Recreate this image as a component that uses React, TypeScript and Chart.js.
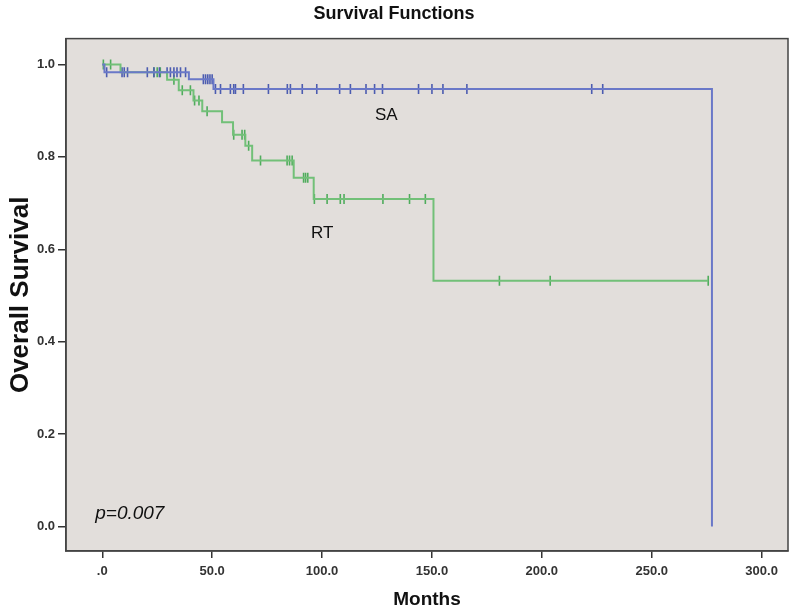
import React, { useEffect, useRef } from "react";
import { Chart, registerables } from "chart.js";

Chart.register(...registerables);

// SA group: Kaplan-Meier step times and survival after each step
const saStepTimes = [0, 1, 39.4, 50.6, 277.4];
const saStepValues = [1.0, 0.983, 0.968, 0.947, 0.0];
// SA censored observations (months)
const saCensored = [
  2, 9, 10, 11.5, 20.5, 23.5, 26, 29.5, 31, 32.6, 34, 35.6, 37.9,
  46, 47, 48, 49, 50,
  51.5, 53.8, 58.3, 59.8, 60.6, 64.2, 75.6, 84.2, 85.6, 91, 97.6, 108, 112.9,
  120, 123.9, 127.5, 143.9, 150, 155, 165.9, 222.7, 227.7,
];

// RT group
const rtStepTimes = [0, 8.3, 29.5, 34.8, 41.5, 45.5, 54.5, 59.5, 65.1, 68.2, 87.1, 96.2, 150.7, 275.7];
const rtStepValues = [1.0, 0.983, 0.967, 0.944, 0.922, 0.899, 0.875, 0.848, 0.824, 0.792, 0.755, 0.709, 0.532, 0.532];
const rtCensored = [
  0.5, 3.8, 23.5, 25, 26.4, 32.6, 36.4, 40.1, 42, 44, 47.7, 59.8, 63.6, 64.8, 66.6,
  72, 84.1, 85.2, 86.4, 91.6, 92.5, 93.5, 96.5, 102.3, 108.3, 110, 127.7, 139.8,
  147, 180.7, 203.8, 275.7,
];

const xTickValues = [0, 50, 100, 150, 200, 250, 300];
const yTickValues = [0, 0.2, 0.4, 0.6, 0.8, 1.0];

const groupLabels = ["SA", "RT"];
const pValueText = "p=0.007";

function levelAt(times: number[], values: number[], t: number): number {
  let v = values[0];
  for (let i = 0; i < times.length; i++) {
    if (times[i] <= t) v = values[i];
  }
  return v;
}

const SA_LINE = "#6a78c8";
const SA_TICK = "#4c5cb0";
const RT_LINE = "#72c078";
const RT_TICK = "#4fac5c";
const FONT = "Arial, 'Liberation Sans', Helvetica, sans-serif";

export default function App() {
  const ref = useRef<HTMLCanvasElement | null>(null);

  useEffect(() => {
    if (!ref.current) return;

    const bgPlugin = {
      id: "bgPlugin",
      beforeDraw(chart: any) {
        const { ctx, chartArea } = chart;
        ctx.save();
        ctx.fillStyle = "#e2dedb";
        ctx.fillRect(chartArea.left, chartArea.top, chartArea.right - chartArea.left, chartArea.bottom - chartArea.top);
        ctx.restore();
      },
      afterDraw(chart: any) {
        const { ctx, chartArea, scales } = chart;
        ctx.save();
        ctx.strokeStyle = "#444";
        ctx.lineWidth = 1.5;
        ctx.strokeRect(chartArea.left, chartArea.top, chartArea.right - chartArea.left, chartArea.bottom - chartArea.top);
        const x = scales.x;
        const y = scales.y;
        ctx.fillStyle = "#111";
        ctx.font = `17px ${FONT}`;
        ctx.textAlign = "center";
        ctx.textBaseline = "middle";
        ctx.fillText(groupLabels[0], x.getPixelForValue(129.2), y.getPixelForValue(0.89));
        ctx.fillText(groupLabels[1], x.getPixelForValue(100.1), y.getPixelForValue(0.634));
        ctx.font = `italic 19px ${FONT}`;
        ctx.textAlign = "left";
        ctx.fillText(pValueText, x.getPixelForValue(-3.2), y.getPixelForValue(0.028));
        ctx.restore();
      },
    };

    const chart = new Chart(ref.current, {
      type: "scatter",
      data: {
        datasets: [
          {
            label: "SA",
            data: saStepTimes.map((t, i) => ({ x: t, y: saStepValues[i] })),
            showLine: true,
            stepped: true,
            borderColor: SA_LINE,
            borderWidth: 2,
            pointRadius: 0,
            fill: false,
          },
          {
            label: "RT",
            data: rtStepTimes.map((t, i) => ({ x: t, y: rtStepValues[i] })),
            showLine: true,
            stepped: true,
            borderColor: RT_LINE,
            borderWidth: 2,
            pointRadius: 0,
            fill: false,
          },
          {
            label: "SA censored",
            data: saCensored.map((t) => ({ x: t, y: levelAt(saStepTimes, saStepValues, t) })),
            showLine: false,
            pointStyle: "line",
            rotation: 90,
            pointRadius: 5,
            borderColor: SA_TICK,
            backgroundColor: SA_TICK,
            borderWidth: 1.6,
          },
          {
            label: "RT censored",
            data: rtCensored.map((t) => ({ x: t, y: levelAt(rtStepTimes, rtStepValues, t) })),
            showLine: false,
            pointStyle: "line",
            rotation: 90,
            pointRadius: 5,
            borderColor: RT_TICK,
            backgroundColor: RT_TICK,
            borderWidth: 1.6,
          },
        ],
      },
      options: {
        responsive: false,
        animation: false,
        layout: { padding: { left: 0, right: 12, top: 0, bottom: 0 } },
        plugins: {
          legend: { display: false },
          tooltip: { enabled: false },
          title: {
            display: true,
            text: "Survival Functions",
            color: "#111",
            font: { family: FONT, size: 18, weight: "bold" },
            padding: { top: 3, bottom: 14 },
          },
        },
        scales: {
          x: {
            type: "linear",
            min: -16.5,
            max: 312,
            afterBuildTicks: (scale: any) => {
              scale.ticks = xTickValues.map((v) => ({ value: v }));
            },
            afterFit: (scale: any) => {
              scale.height = 61;
            },
            ticks: {
              color: "#333",
              font: { family: FONT, size: 13, weight: "bold" },
              padding: 6,
              autoSkip: false,
              maxRotation: 0,
              callback: (v: any) => (Number(v) === 0 ? ".0" : Number(v).toFixed(1)),
            },
            grid: { display: true, drawOnChartArea: false, drawTicks: true, tickLength: 7, color: "#333", lineWidth: 1.5 },
            border: { display: true, color: "#444", width: 1.5 },
            title: {
              display: true,
              text: "Months",
              color: "#111",
              font: { family: FONT, size: 19, weight: "bold" },
              padding: { top: 0, bottom: 1 },
            },
          },
          y: {
            type: "linear",
            min: -0.053,
            max: 1.056,
            afterBuildTicks: (scale: any) => {
              scale.ticks = yTickValues.map((v) => ({ value: v }));
            },
            afterFit: (scale: any) => {
              scale.width = 66;
            },
            ticks: {
              color: "#333",
              font: { family: FONT, size: 13, weight: "bold" },
              padding: 3,
              autoSkip: false,
              callback: (v: any) => Number(v).toFixed(1),
            },
            grid: { display: true, drawOnChartArea: false, drawTicks: true, tickLength: 8, color: "#333", lineWidth: 1.5 },
            border: { display: true, color: "#444", width: 1.5 },
            title: {
              display: true,
              text: "Overall Survival",
              color: "#111",
              font: { family: FONT, size: 26, weight: "bold" },
              padding: { top: 5, bottom: 0 },
            },
          },
        },
      },
      plugins: [bgPlugin],
    });

    return () => chart.destroy();
  }, []);

  return (
    <div style={{ position: "fixed", left: 0, top: 0, width: 800, height: 612, background: "#fff" }}>
      <canvas ref={ref} width={800} height={612} style={{ display: "block" }} />
    </div>
  );
}
